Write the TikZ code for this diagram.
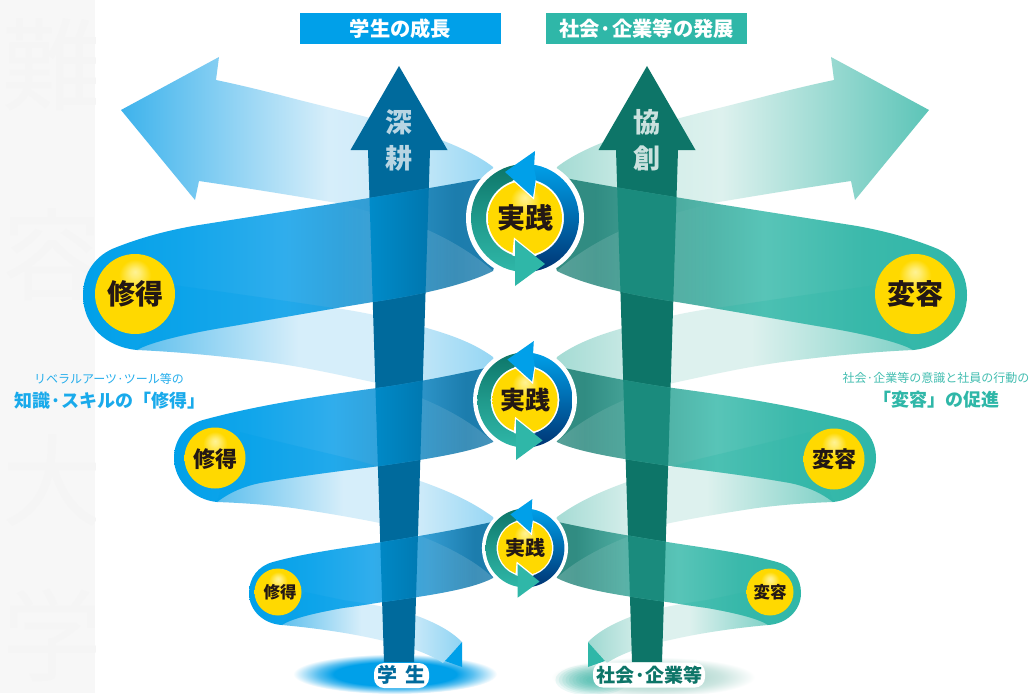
\documentclass[tikz,border=0pt]{standalone}
\usepackage{fontspec}
\usetikzlibrary{fadings}
\newfontfamily\jp{Noto Sans CJK JP}
\newcommand\fsz[1]{\fontsize{#1pt}{#1pt}\selectfont}

\definecolor{blueB}{HTML}{00A0E9}
\definecolor{tealB}{HTML}{2FB7A8}
\definecolor{blueD}{HTML}{006A9C}
\definecolor{tealD}{HTML}{0D7568}
\definecolor{inkK}{HTML}{231815}
\definecolor{sunY}{HTML}{FFD900}

% shadings: 25bp..75bp spans the path's bounding box
\pgfdeclarehorizontalshading{tipL}{100bp}{
  rgb(0bp)=(.24,.70,.925); rgb(25bp)=(.24,.70,.925); rgb(52bp)=(.84,.933,.98); rgb(62bp)=(.80,.92,.975); rgb(75bp)=(.56,.83,.953); rgb(100bp)=(.56,.83,.953)}
\pgfdeclarehorizontalshading{tipR}{100bp}{
  rgb(0bp)=(.36,.77,.72); rgb(25bp)=(.36,.77,.72); rgb(52bp)=(.867,.945,.933); rgb(62bp)=(.82,.93,.91); rgb(75bp)=(.62,.85,.82); rgb(100bp)=(.62,.85,.82)}
\pgfdeclarehorizontalshading{lightL}{100bp}{
  rgb(0bp)=(.37,.75,.93); rgb(25bp)=(.37,.75,.93); rgb(47bp)=(.84,.933,.98); rgb(58bp)=(.84,.933,.98); rgb(75bp)=(.56,.83,.953); rgb(100bp)=(.56,.83,.953)}
\pgfdeclarehorizontalshading{lightR}{100bp}{
  rgb(0bp)=(.50,.82,.78); rgb(25bp)=(.50,.82,.78); rgb(47bp)=(.867,.945,.933); rgb(58bp)=(.867,.945,.933); rgb(75bp)=(.62,.85,.82); rgb(100bp)=(.62,.85,.82)}
\pgfdeclarehorizontalshading{darkL}{100bp}{
  rgb(0bp)=(0,.627,.914); rgb(25bp)=(0,.627,.914); rgb(37bp)=(.07,.65,.92); rgb(49bp)=(.19,.68,.925); rgb(60bp)=(.20,.61,.82); rgb(69bp)=(.11,.49,.68); rgb(75bp)=(.12,.49,.68); rgb(100bp)=(.12,.49,.68)}
\pgfdeclarehorizontalshading{darkR}{100bp}{
  rgb(0bp)=(.184,.718,.659); rgb(25bp)=(.184,.718,.659); rgb(37bp)=(.23,.725,.67); rgb(49bp)=(.345,.77,.72); rgb(60bp)=(.30,.67,.625); rgb(69bp)=(.19,.55,.51); rgb(75bp)=(.20,.55,.51); rgb(100bp)=(.20,.55,.51)}
\pgfdeclareradialshading{ellL}{\pgfpoint{0bp}{0bp}}{
  rgb(0bp)=(0,.627,.914); rgb(15bp)=(0,.627,.914); rgb(19bp)=(.35,.75,.94); rgb(25bp)=(1,1,1); rgb(50bp)=(1,1,1)}
\pgfdeclareradialshading{ellR}{\pgfpoint{0bp}{0bp}}{
  rgb(0bp)=(.62,.82,.78); rgb(10bp)=(.70,.85,.82); rgb(17bp)=(.80,.90,.88); rgb(25bp)=(1,1,1); rgb(50bp)=(1,1,1)}
\pgfdeclareradialshading{ballY}{\pgfpoint{0bp}{14bp}}{
  rgb(0bp)=(1,.95,.58); rgb(3bp)=(1,.93,.45); rgb(10bp)=(1,.851,0); rgb(60bp)=(1,.851,0)}

% ribbons (left-hand side, page pixels)
\def\tipP{(121,110) -- (219,57) -- (216,80) .. controls (240,85) and (260,90) .. (280,95) .. controls (310,103) and (340,110) .. (370,118) .. controls (410,128) and (465,145) .. (493,167) -- (505,220) -- (493,271) .. controls (470,250) and (430,228) .. (400,220) .. controls (370,212) and (345,205) .. (337,203) .. controls (290,195) and (240,187) .. (199,181) -- (195,200) -- cycle}
\def\lightAP{(137,350) .. controls (180,352) and (220,356) .. (260,361) .. controls (300,366) and (340,375) .. (377,383) .. controls (420,395) and (465,415) .. (493,442) -- (505,400) -- (493,357) .. controls (470,340) and (440,332) .. (427,328) .. controls (390,318) and (360,311) .. (327,307) .. controls (280,300) and (225,292) .. (173,285) -- cycle}
\def\lightBP{(217,502) .. controls (245,503) and (270,505) .. (293,508) .. controls (320,512) and (350,517) .. (380,523) .. controls (420,533) and (470,555) .. (493,578) -- (505,550) -- (493,517) .. controls (470,500) and (445,490) .. (423,482) .. controls (395,472) and (370,463) .. (343,457) .. controls (310,449) and (275,441) .. (240,432) -- cycle}
\def\lightCP{(282,625) .. controls (315,628) and (350,633) .. (380,640) .. controls (405,645) and (430,654) .. (443,663) -- (462,642) .. controls (450,630) and (435,623) .. (420,617) .. controls (395,608) and (370,604) .. (343,600) -- (305,592) -- cycle}
\def\bandAP{(490,177) .. controls (430,189) and (300,209) .. (193,226) .. controls (165,231) and (140,238) .. (117,247) .. controls (95,255) and (83,273) .. (83,295) .. controls (83,325) and (105,347) .. (137,350) .. controls (150,342) and (190,333) .. (227,327) .. controls (280,318) and (330,309) .. (373,302) .. controls (420,295) and (465,285) .. (493,271) -- (505,220) -- cycle}
\def\bandBP{(490,367) .. controls (440,378) and (400,385) .. (377,388) .. controls (310,397) and (250,407) .. (203,420) .. controls (185,425) and (174,440) .. (174,458) .. controls (174,482) and (195,500) .. (217,502) .. controls (230,492) and (245,486) .. (260,483) .. controls (300,476) and (340,471) .. (380,466) .. controls (420,460) and (470,453) .. (493,442) -- (505,400) -- cycle}
\def\bandCP{(492,522) .. controls (455,530) and (420,536) .. (383,542) .. controls (345,548) and (305,553) .. (273,562) .. controls (258,566) and (249,578) .. (249,593) .. controls (249,611) and (264,624) .. (282,625) .. controls (292,618) and (320,612) .. (343,608) .. controls (358,606) and (370,604) .. (383,602) .. controls (425,596) and (470,590) .. (493,578) -- (505,550) -- cycle}
\def\overAP{(337,203) .. controls (345,205) and (370,212) .. (400,220) .. controls (430,228) and (470,250) .. (493,271) -- (493,330) -- (337,330) -- cycle}
\def\overBP{(377,383) .. controls (420,395) and (465,415) .. (493,442) -- (493,480) -- (377,480) -- cycle}
\def\overCP{(380,523) .. controls (420,533) and (470,555) .. (493,578) -- (493,620) -- (380,620) -- cycle}
\newcommand\arrowP[1]{(#1,66) -- ({#1+48.5},150) -- ({#1+31},150) -- ({#1+15},662) -- ({#1-15},662) -- ({#1-31},150) -- ({#1-48.5},150) -- cycle}

\newcommand\oneband[4]{%
  \path[shading=dark\sfx,shading angle=\sa] #1;
  \begin{scope}
    \clip #1;
    \fill[white,opacity=.18,path fading=\fadedir] #3;
    \fill[baseC,opacity=.3] #4;
    \path[left color=ovA,right color=ovB] \arrowP{#2};
  \end{scope}}

\newcommand\oneside[1]{%
  \path[shading=tip\sfx,shading angle=\sa] \tipP;
  \path[shading=light\sfx,shading angle=\sa] \lightAP;
  \path[shading=light\sfx,shading angle=\sa] \lightBP;
  \path[shading=light\sfx,shading angle=\sa] \lightCP;
  \fill[baseC] (462,642) -- (445,661) -- (462,667) -- cycle;
  \fill[shaftC] \arrowP{#1};
  \oneband{\bandCP}{#1}{\overCP}{\lightCP}
  \oneband{\bandBP}{#1}{\overBP}{\lightBP}
  \oneband{\bandAP}{#1}{\overAP}{\lightAP}
}

\newcommand\cycleicon[4]{% name, y, scale, text size
  \begin{scope}[shift={(525,#2)},scale=#3]
    \fill[white] (0,0) circle (59);
    \begin{scope}
      \clip (-60,-60) rectangle (0,60);
      \path[even odd rule,top color=tealD,bottom color=tealB,middle color=tealD!45!tealB] (0,0) circle (54) (0,0) circle (39);
    \end{scope}
    \begin{scope}
      \clip (0,-60) rectangle (60,60);
      \path[even odd rule,top color=blueB,middle color=blueB!85!blue!60!black,bottom color=blue!55!cyan!45!black] (0,0) circle (54) (0,0) circle (39);
    \end{scope}
    \path[shading=ballY] (0,0) circle (37);
    \begin{scope}
      \clip (0,0) circle (39.5);
      \draw[white,line width=2.6pt] (-20,-46) -- (8,-21) -- (11,-45);
      \draw[white,line width=2.6pt] (20,46) -- (-10,22) -- (-12,45);
    \end{scope}
    \fill[blueB] (-20,-46) -- (10,-67) -- (9,-50) -- (11,-40) -- (8,-21) -- cycle;
    \fill[tealB] (20,46) -- (-10,22) -- (-10,68) -- cycle;
  \end{scope}
  \node[jt,text=inkK,font=\jp\bfseries\fsz{#4}] (#1) at (525,#2) {実践};}

\tikzset{
  jt/.style={inner sep=0pt,outer sep=0pt},
  headbox/.style={minimum width=201pt,minimum height=31pt,inner sep=0pt,text=white,font=\jp\bfseries\fsz{20.3}},
  ball/.style={shading=ballY},
  halo/.style={fill=white,rounded corners=10pt,inner sep=0pt}
}

\begin{document}
\begin{tikzpicture}[x=1pt,y=-1pt]
\useasboundingbox (0,0) rectangle (1030,693);
\fill[white] (0,0) rectangle (1030,693);

% pale background strip with ghost lettering
\fill[black!3!white] (0,0) rectangle (95,693);
\begin{scope}
  \clip (0,0) rectangle (95,693);
  \foreach \gy/\gc in {65/難,255/容,480/大,635/学}
    \node[jt,text=black!4!white,font=\jp\fsz{100}] (ghost\gy) at (52,\gy) {\gc};
\end{scope}

% floor ellipses
\path[shading=ellL] (395,674) circle[x radius=102,y radius=20];
\path[shading=ellR] (653,677) circle[x radius=102,y radius=20];
\foreach \rr in {1,...,10}
  \fill[tealB,opacity=.09] (592,680) circle[x radius={40-3.4*\rr},y radius={17-1.4*\rr}];

% left side
\def\sfx{L}\def\sa{0}\def\fadedir{west}
\colorlet{baseC}{blueB}\colorlet{shaftC}{blueD}
\definecolor{ovA}{HTML}{0092D2}\definecolor{ovB}{HTML}{0070A6}
\oneside{399}

% right side
\def\sfx{R}\def\sa{180}\def\fadedir{east}
\colorlet{baseC}{tealB}\colorlet{shaftC}{tealD}
\definecolor{ovA}{HTML}{1A8B7D}\definecolor{ovB}{HTML}{1A8B7D}
\begin{scope}[shift={(1050,0)},xscale=-1]
\oneside{403}
\end{scope}

% cycle icons
\cycleicon{pA}{218}{1}{28}
\cycleicon{pB}{400}{.88}{25}
\cycleicon{pC}{548}{.73}{20}

% learned / transformed discs
\path[ball] (135,294) circle (40);
\path[ball] (915,294) circle (40);
\path[ball] (215,458) circle (30.5);
\path[ball] (834,459) circle (30.5);
\path[ball] (278,592) circle (23.5);
\path[ball] (770,592) circle (23.5);
\node[jt,text=inkK,font=\jp\bfseries\fsz{28}] (sA) at (135,294) {修得};
\node[jt,text=inkK,font=\jp\bfseries\fsz{22}] (sB) at (215,459) {修得};
\node[jt,text=inkK,font=\jp\bfseries\fsz{16.5}] (sC) at (280,592) {修得};
\node[jt,text=inkK,font=\jp\bfseries\fsz{28}] (hA) at (915,294) {変容};
\node[jt,text=inkK,font=\jp\bfseries\fsz{22}] (hB) at (834,459) {変容};
\node[jt,text=inkK,font=\jp\bfseries\fsz{16.5}] (hC) at (770,592) {変容};

% header boxes
\node[headbox,fill=blueB] (hl) at (400.5,28.5) {学生の成長};
\node[headbox,fill=tealB] (hr) at (646.5,28.5) {社会·企業等の発展};

% arrow words
\node[jt,text=white!72!blueD,font=\jp\bfseries\fsz{27}] (w1) at (399,122) {深};
\node[jt,text=white!72!blueD,font=\jp\bfseries\fsz{27}] (w2) at (399,158) {耕};
\node[jt,text=white!78!tealD,font=\jp\bfseries\fsz{27}] (w3) at (647,122) {協};
\node[jt,text=white!78!tealD,font=\jp\bfseries\fsz{27}] (w4) at (647,158) {創};

% captions
\node[jt,text=blueB!85!white,font=\jp\fsz{12}] (c1) at (109,379) {リベラルアーツ·ツール等の};
\node[jt,text=blueB!90!white,font=\jp\bfseries\fsz{18}] (c2) at (110,401) {知識·スキルの「修得」};
\node[jt,text=tealB!90!white,font=\jp\fsz{12}] (c3) at (936,378) {社会·企業等の意識と社員の行動の};
\node[jt,text=tealB,font=\jp\bfseries\fsz{18}] (c4) at (936,400) {「変容」の促進};

% floor labels
\node[halo,minimum width=55pt,minimum height=25pt] (b1) at (401.5,675.5) {};
\node[jt,text=blueD,font=\jp\bfseries\fsz{20}] (t1) at (401.5,675) {学\hspace{8pt}生};
\node[halo,minimum width=112pt,minimum height=25pt] (b2) at (649,675) {};
\node[jt,text=tealD,font=\jp\bfseries\fsz{19}] (t2) at (649.5,675) {社会·企業等};
\end{tikzpicture}
\end{document}
